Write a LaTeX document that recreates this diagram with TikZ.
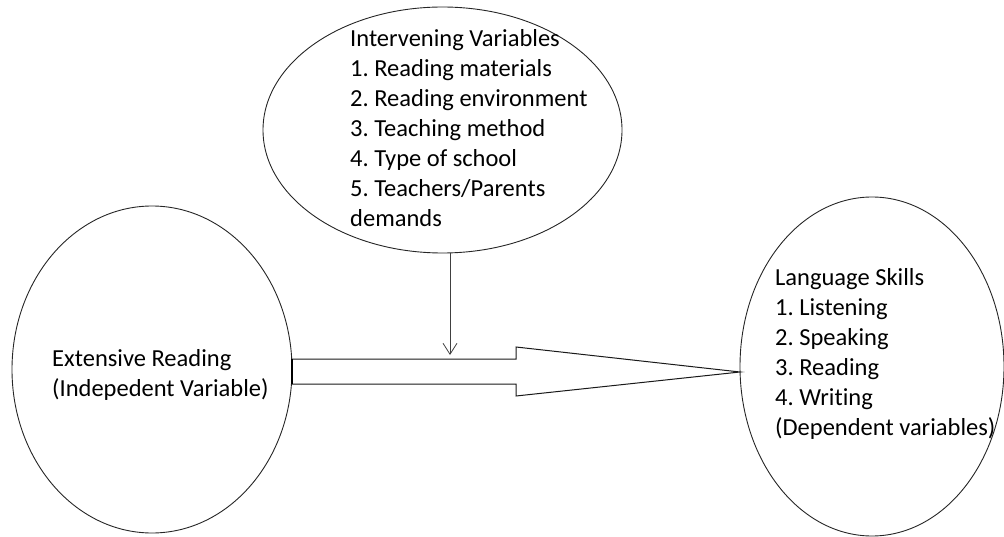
\documentclass[tikz,border=0pt]{standalone}
\usepackage{fontspec}
\setmainfont{Carlito}[Ligatures={NoCommon}]
\usetikzlibrary{shapes.geometric,arrows.meta,calc}
\frenchspacing
\begin{document}
\begin{tikzpicture}[x=1pt,y=-1pt,
  oval/.style={draw=black!85, line width=0.9pt, ellipse, inner sep=0pt, outer sep=0pt},
  lbl/.style={anchor=base west, inner sep=0pt, align=left, font=\fontsize{24.5}{30}\selectfont},
  blockline/.style={draw=black!90, line width=1pt, line join=miter},
  thin arrow/.style={draw=black!75, line width=0.8pt, -{Straight Barb[length=11pt,width=14pt,line width=0.8pt]}}]
\useasboundingbox (0,0) rectangle (1004,537);
% ellipses
\node[oval, minimum width=359pt, minimum height=246pt] (T) at (442.5,130) {};
\node[oval, minimum width=280pt, minimum height=327pt] (L) at (152,369.5) {};
\node[oval, minimum width=264pt, minimum height=339pt] (R) at (872,366.5) {};
% texts (anchored at the baseline of the last line)
\node[lbl] (Ttext) at (350,227) {Intervening Variables\\1. Reading materials\\2. Reading environment\\3. Teaching method\\4. Type of school\\5. Teachers/Parents\\demands};
\node[lbl] (Ltext) at (52,396) {Extensive Reading\\(Indepedent Variable)};
\node[lbl] (Rtext) at (775,435) {Language Skills\\1. Listening\\2. Speaking\\3. Reading\\4. Writing\\(Dependent variables)};
% block arrow
\path (L.east) ++(0,-10.5) coordinate (s1) ++(224,0) coordinate (s2) ++(0,-12) coordinate (h1);
\path (L.east) ++(0,14.5) coordinate (s4) ++(224,0) coordinate (s3) ++(0,12) coordinate (h2);
\coordinate (tip) at ($(R.west)+(0,5.5)$);
\draw[blockline] (s1) -- (s2) -- (h1) -- (tip) -- (h2) -- (s3) -- (s4) -- cycle;
\draw[line width=2pt] (s1) -- (s4);
% vertical arrow
\coordinate (vstart) at ($(T.south)+(7.5,0)$);
\coordinate (vend) at ($(T.south)+(7.5,102)$);
\draw[thin arrow] (vstart) -- (vend);
\end{tikzpicture}
\end{document}
